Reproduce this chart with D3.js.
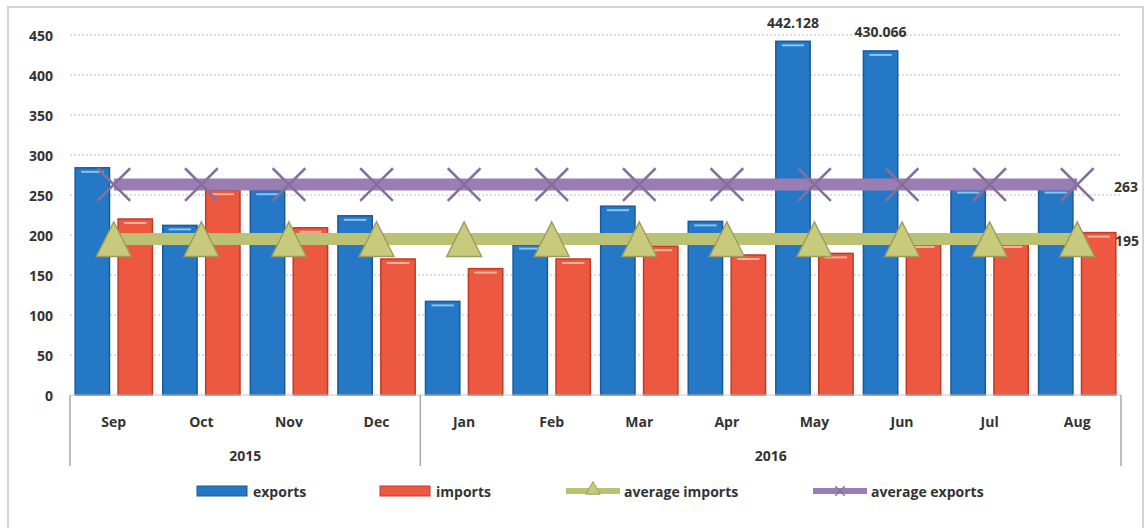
<!DOCTYPE html>
<html>
  <head>
    <meta charset="UTF-8" />
    <style>
      body { margin: 0; background: #fff; }
      text { font-family: "Open Sans", Lato, sans-serif; font-weight: bold; fill: #333; }
    </style>
  </head>
  <body>
    <svg></svg>
    <script src="https://d3js.org/d3.v7.min.js"></script>
    <script>
      let width = 1145,
        height = 528;

      // data
      const months = ["Sep", "Oct", "Nov", "Dec", "Jan", "Feb", "Mar", "Apr", "May", "Jun", "Jul", "Aug"];
      const years = [
        { year: "2015", from: "Sep", to: "Dec" },
        { year: "2016", from: "Jan", to: "Aug" },
      ];
      const exportsVals = [284, 212, 256, 224, 117, 188, 236, 217, 442.128, 430.066, 258, 258];
      const importsVals = [220, 256, 209, 170, 158, 170, 186, 175, 177, 190, 190, 203];
      const avgExports = 263;
      const avgImports = 195;
      const yTicks = [0, 50, 100, 150, 200, 250, 300, 350, 400, 450];

      let svg = d3.select("svg").attr("width", width).attr("height", height);

      // chart frame
      svg.append("rect")
        .attr("x", 8).attr("y", 7)
        .attr("width", 1135).attr("height", 525)
        .attr("fill", "none")
        .attr("stroke", "#d4d4d4")
        .attr("stroke-width", 2);

      const plotL = 70, plotR = 1121, plotT = 35, plotB = 395;

      const x0 = d3.scaleBand().domain(months).range([plotL, plotR]);
      const x1 = d3.scaleBand()
        .domain(["exports", "imports"])
        .range([0, x0.bandwidth()])
        .paddingInner(0.2)
        .paddingOuter(0.12);
      const y = d3.scaleLinear().domain([0, 450]).range([plotB, plotT]);

      // gridlines
      svg.append("g")
        .selectAll("line")
        .data(yTicks.filter((d) => d > 0))
        .enter()
        .append("line")
        .attr("x1", plotL).attr("x2", plotR)
        .attr("y1", (d) => y(d)).attr("y2", (d) => y(d))
        .attr("stroke", "#bdbdbd")
        .attr("stroke-width", 1)
        .attr("stroke-dasharray", "2,2");

      // y axis labels
      svg.append("g")
        .selectAll("text")
        .data(yTicks)
        .enter()
        .append("text")
        .attr("x", 53)
        .attr("y", (d) => y(d))
        .attr("text-anchor", "end")
        .attr("dominant-baseline", "central")
        .style("font-size", "14px")
        .text((d) => d);

      // bars
      const rows = months.map((m, i) => ({ month: m, exports: exportsVals[i], imports: importsVals[i] }));
      const colors = { exports: "#2478c6", imports: "#ec5840" };
      const strokes = { exports: "#1a5a98", imports: "#c23a28" };

      const groups = svg.append("g")
        .selectAll("g")
        .data(rows)
        .enter()
        .append("g")
        .attr("transform", (d) => "translate(" + x0(d.month) + ",0)");

      groups.selectAll("rect")
        .data((d) => ["exports", "imports"].map((k) => ({ key: k, value: d[k] })))
        .enter()
        .append("rect")
        .attr("x", (d) => x1(d.key))
        .attr("y", (d) => y(d.value))
        .attr("width", x1.bandwidth())
        .attr("height", (d) => plotB - y(d.value))
        .attr("fill", (d) => colors[d.key])
        .attr("stroke", (d) => strokes[d.key])
        .attr("stroke-width", 1.5);

      // small highlight at top of each bar
      groups.selectAll("line.hl")
        .data((d) => ["exports", "imports"].map((k) => ({ key: k, value: d[k] })))
        .enter()
        .append("line")
        .attr("class", "hl")
        .attr("x1", (d) => x1(d.key) + 6)
        .attr("x2", (d) => x1(d.key) + x1.bandwidth() - 6)
        .attr("y1", (d) => y(d.value) + 4)
        .attr("y2", (d) => y(d.value) + 4)
        .attr("stroke", (d) => (d.key == "exports" ? "#8cc4f0" : "#f6b39a"))
        .attr("stroke-width", 2);

      // x axis
      const axis = svg.append("g");
      axis.append("line")
        .attr("x1", plotL).attr("x2", plotR)
        .attr("y1", plotB).attr("y2", plotB)
        .attr("stroke", "#c8c8c8");
      const seps = [months[0], "Jan"].map((m) => x0(m)).concat([plotR]);
      axis.selectAll("line.sep")
        .data(seps)
        .enter()
        .append("line")
        .attr("class", "sep")
        .attr("x1", (d) => d).attr("x2", (d) => d)
        .attr("y1", plotB).attr("y2", 466)
        .attr("stroke", "#a8a8a8")
        .attr("stroke-width", 1.5);

      axis.selectAll("text.m")
        .data(months)
        .enter()
        .append("text")
        .attr("class", "m")
        .attr("x", (d) => x0(d) + x0.bandwidth() / 2)
        .attr("y", 421)
        .attr("text-anchor", "middle")
        .attr("dominant-baseline", "central")
        .style("font-size", "14px")
        .text((d) => d);

      axis.selectAll("text.yr")
        .data(years)
        .enter()
        .append("text")
        .attr("class", "yr")
        .attr("x", (d) => (x0(d.from) + x0(d.to) + x0.bandwidth()) / 2)
        .attr("y", 455)
        .attr("text-anchor", "middle")
        .attr("dominant-baseline", "central")
        .style("font-size", "14px")
        .text((d) => d.year);

      // average lines
      const cx = (m) => x0(m) + x0.bandwidth() / 2;
      const purple = "#9a7db3", green = "#bcc274";

      svg.append("line")
        .attr("x1", cx(months[0])).attr("x2", cx(months[months.length - 1]))
        .attr("y1", y(avgExports)).attr("y2", y(avgExports))
        .attr("stroke", purple)
        .attr("stroke-width", 12);

      svg.append("g")
        .selectAll("path")
        .data(months)
        .enter()
        .append("path")
        .attr("d", d3.symbol(d3.symbolTimes, 700))
        .attr("transform", (d) => "translate(" + cx(d) + "," + y(avgExports) + ")")
        .attr("fill", "none")
        .attr("stroke", "#85709a")
        .attr("stroke-width", 2.5);

      svg.append("line")
        .attr("x1", cx(months[0])).attr("x2", cx(months[months.length - 1]))
        .attr("y1", y(avgImports)).attr("y2", y(avgImports))
        .attr("stroke", green)
        .attr("stroke-width", 12);

      // triangles a bit taller than equilateral, like the original markers
      svg.append("g")
        .selectAll("path")
        .data(months)
        .enter()
        .append("path")
        .attr("d", d3.symbol(d3.symbolTriangle, 530))
        .attr("transform", (d) => "translate(" + cx(d) + "," + (y(avgImports) + 6) + ") scale(1,1.15)")
        .attr("fill", "#c8cb7c")
        .attr("stroke", "#9c9a5c")
        .attr("stroke-width", 1.3);

      // data labels
      svg.append("g")
        .selectAll("text")
        .data(rows.filter((d) => d.exports > 400))
        .enter()
        .append("text")
        .attr("x", (d) => x0(d.month) + x1("exports") + x1.bandwidth() / 2)
        .attr("y", (d) => y(d.exports) - 19)
        .attr("text-anchor", "middle")
        .attr("dominant-baseline", "central")
        .style("font-size", "14px")
        .text((d) => d3.format(".3f")(d.exports));

      svg.append("text")
        .attr("x", 1114).attr("y", y(avgExports) + 2)
        .attr("dominant-baseline", "central")
        .style("font-size", "14px")
        .text(avgExports);
      svg.append("text")
        .attr("x", 1115).attr("y", y(avgImports) + 1)
        .attr("dominant-baseline", "central")
        .style("font-size", "14px")
        .text(avgImports);

      // legend
      const legendItems = [
        { name: "exports", x: 197, kind: "bar", color: colors.exports, stroke: strokes.exports },
        { name: "imports", x: 380, kind: "bar", color: colors.imports, stroke: strokes.imports },
        { name: "average imports", x: 566, kind: "tri", color: green },
        { name: "average exports", x: 813, kind: "x", color: purple },
      ];
      const ly = 491;
      const legend = svg.append("g").attr("id", "legend");
      legendItems.forEach((it) => {
        if (it.kind == "bar") {
          legend.append("rect")
            .attr("x", it.x).attr("y", ly - 5)
            .attr("width", 50).attr("height", 10)
            .attr("fill", it.color)
            .attr("stroke", it.stroke);
        } else {
          legend.append("line")
            .attr("x1", it.x).attr("x2", it.x + 54)
            .attr("y1", ly).attr("y2", ly)
            .attr("stroke", it.color)
            .attr("stroke-width", 6);
          if (it.kind == "tri") {
            legend.append("path")
              .attr("d", d3.symbol(d3.symbolTriangle, 90))
              .attr("transform", "translate(" + (it.x + 27) + "," + (ly - 1) + ")")
              .attr("fill", "#c8cb7c")
              .attr("stroke", "#9c9a5c");
          } else {
            legend.append("path")
              .attr("d", d3.symbol(d3.symbolTimes, 60))
              .attr("transform", "translate(" + (it.x + 27) + "," + ly + ")")
              .attr("stroke", "#85709a")
              .attr("stroke-width", 1.5);
          }
        }
        legend.append("text")
          .attr("x", it.x + (it.kind == "bar" ? 56 : 58))
          .attr("y", ly)
          .attr("dominant-baseline", "central")
          .style("font-size", "14px")
          .text(it.name);
      });
    </script>
  </body>
</html>
